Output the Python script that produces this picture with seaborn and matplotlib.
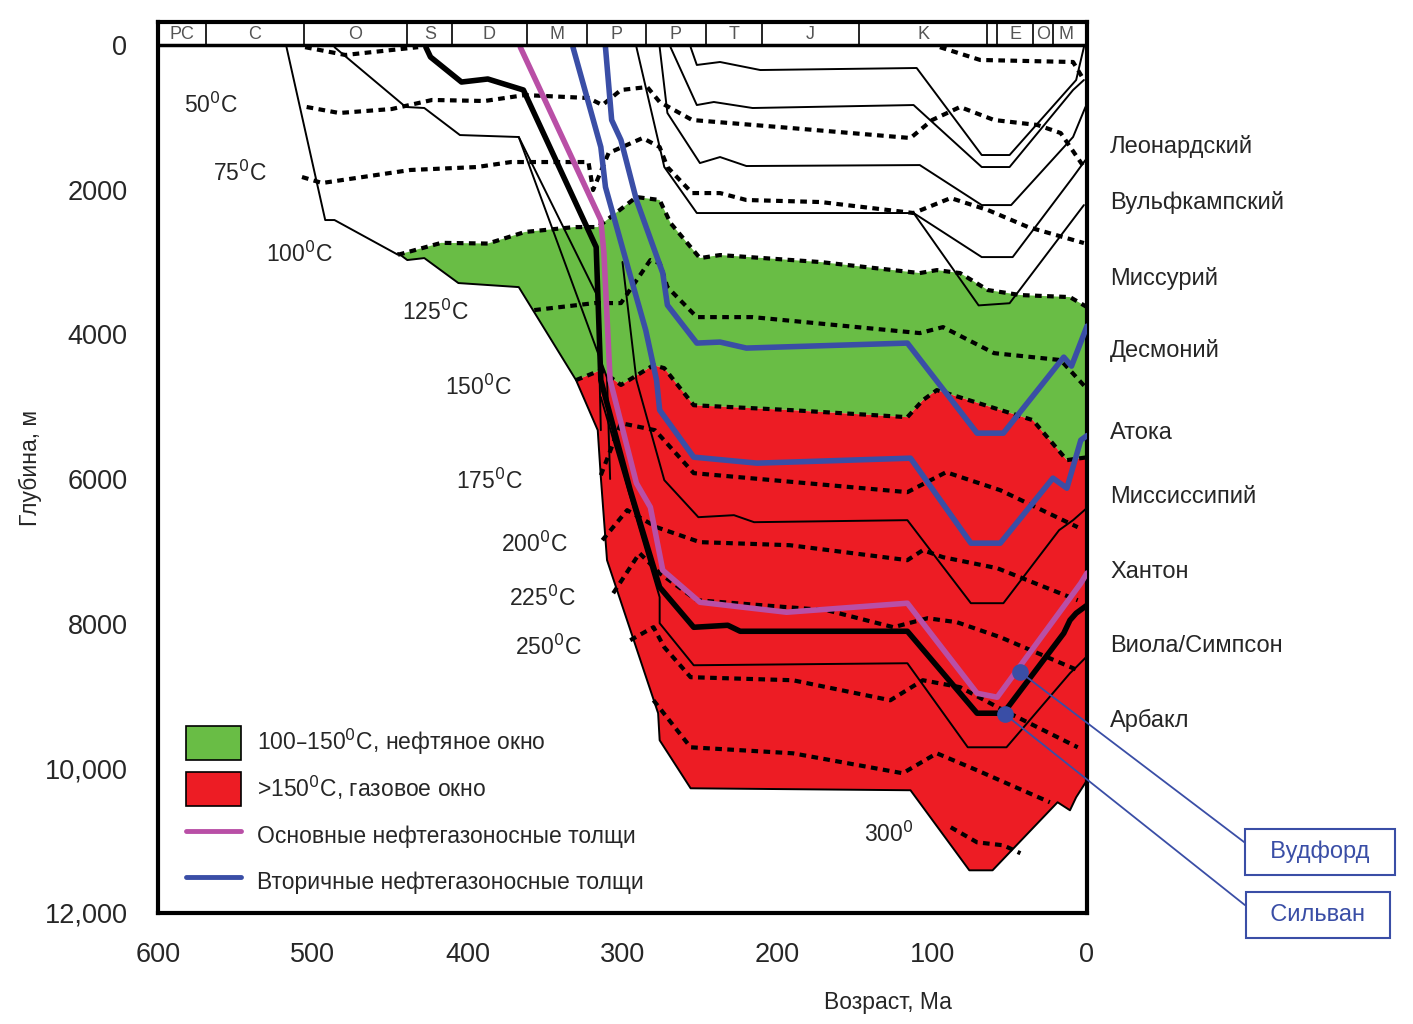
import numpy as np
import pandas as pd
import matplotlib
matplotlib.use("Agg")
import matplotlib.pyplot as plt
import seaborn as sns
from matplotlib.patches import Patch
from matplotlib.lines import Line2D

# ---------------- data (age Ma, depth m) ----------------
green_top_age = [445, 417, 387, 363, 331, 316, 291, 276, 269, 250, 237, 172, 108, 97, 82, 64, 43, 11, 0]
green_top_dep = [2900, 2735, 2745, 2585, 2517, 2517, 2102, 2143, 2461, 2946, 2904, 3001, 3153, 3112, 3153, 3388, 3457, 3485, 3623]
green_left_age = [445, 439, 428, 406, 367, 330]
green_left_dep = [2877, 2973, 2946, 3291, 3347, 4633]
red_top_age = [330, 314, 301, 280, 273, 254, 191, 116, 106, 97, 35, 13, 0]
red_top_dep = [4633, 4495, 4700, 4427, 4468, 4980, 5048, 5145, 4910, 4771, 5186, 5739, 5700]
red_bot_age = [330, 316, 314, 310, 277, 276, 256, 114, 76, 61, 19, 11, 7, 0]
red_bot_dep = [4633, 5325, 5975, 7122, 9238, 9612, 10276, 10303, 11410, 11410, 10469, 10580, 10400, 10165]

thick_age = [427, 424, 404, 387, 364, 317, 314, 295, 276, 254, 232, 224, 116, 71, 54, 15, 11, 7, 0]
thick_dep = [30, 166, 512, 470, 622, 2794, 4633, 6155, 7496, 8050, 8022, 8105, 8105, 9238, 9238, 8132, 7952, 7855, 7745]
mag_age = [366, 314, 312, 308, 291, 282, 274, 250, 194, 116, 71, 58, 4, 0]
mag_dep = [30, 2420, 2877, 4633, 6058, 6390, 7261, 7704, 7842, 7717, 8962, 9017, 7441, 7300]
blue1_age = [311, 307, 301, 291, 274, 271, 252, 237, 220, 116, 71, 54, 15, 10, 0]
blue1_dep = [30, 1037, 1314, 2143, 3153, 3596, 4121, 4107, 4190, 4121, 5366, 5366, 4315, 4439, 3887]
blue2_age = [332, 314, 311, 296, 285, 278, 276, 254, 213, 114, 75, 56, 22, 13, 4, 0]
blue2_dep = [30, 1411, 1964, 3112, 3942, 4633, 5048, 5698, 5781, 5712, 6887, 6887, 5988, 6127, 5463, 5400]

thin_lines = {
    "A": ([256, 252, 237, 211, 110, 68, 50, 7, 2], [30, 276, 235, 346, 318, 1521, 1521, 484, 30]),
    "B": ([269, 252, 241, 216, 112, 68, 50, 9, 2], [30, 830, 788, 871, 830, 1687, 1687, 622, 484]),
    "C": ([276, 271, 250, 237, 220, 108, 68, 49, 9, 1], [30, 940, 1632, 1549, 1673, 1660, 2213, 2213, 1272, 857]),
    "D": ([291, 273, 252, 112, 68, 48, 9, 1], [30, 1687, 2323, 2323, 2932, 2932, 1825, 1590]),
    "E": ([112, 70, 50, 2], [2323, 3600, 3570, 2213]),
    "base": ([517, 492, 486, 445], [30, 2420, 2420, 2900]),
    "L2": ([486, 440, 428, 405, 367, 316, 314], [30, 857, 871, 1245, 1272, 3480, 5325]),
    "L3": ([367, 310, 308], [1272, 4600, 6000]),
    "R1": ([300, 291, 273, 251, 228, 215, 116, 75, 54, 18, 9, 0], [3000, 4633, 6016, 6528, 6500, 6597, 6569, 7717, 7717, 6707, 6569, 6400]),
    "R2": ([314, 276, 276, 254, 116, 77, 52, 11, 7, 0], [4868, 7634, 7994, 8575, 8547, 9709, 9709, 8685, 8602, 8450]),
}

isotherms = {
    "25": ([505, 479, 432], [30, 138, 30]),
    "25b": ([95, 69, 9, 2], [30, 207, 235, 484]),
    "50": ([504, 483, 449, 423, 389, 363, 322, 313, 301, 284, 276, 255, 199, 114, 100, 82, 60, 32, 17, 2],
           [857, 940, 885, 760, 774, 692, 733, 830, 622, 581, 788, 1037, 1134, 1286, 1037, 857, 1037, 1106, 1217, 1687]),
    "75": ([507, 494, 437, 394, 372, 322, 319, 309, 287, 276, 271, 255, 237, 220, 172, 112, 88, 64, 38, 2],
           [1825, 1908, 1728, 1687, 1618, 1618, 2005, 1494, 1286, 1411, 1687, 2047, 2047, 2143, 2171, 2323, 2116, 2282, 2517, 2738]),
    "125": ([357, 318, 301, 282, 276, 271, 252, 216, 108, 93, 60, 17, 1],
            [3665, 3568, 3568, 2973, 3015, 3347, 3762, 3762, 3983, 3900, 4260, 4356, 4730]),
    "175": ([314, 301, 279, 254, 116, 91, 56, 6], [5948, 5228, 5325, 5919, 6182, 5906, 6155, 6666]),
    "200": ([313, 297, 278, 250, 192, 116, 106, 93, 58, 6], [6846, 6431, 6666, 6873, 6915, 7122, 6984, 7081, 7233, 7676]),
    "225": ([306, 289, 276, 252, 168, 125, 103, 84, 56, 6], [7579, 7025, 7302, 7676, 7814, 8049, 7925, 7980, 8187, 8643]),
    "250": ([295, 280, 273, 256, 190, 127, 106, 82, 54, 6], [8229, 8049, 8326, 8740, 8782, 9059, 8782, 8878, 9197, 9709]),
    "275": ([280, 256, 190, 119, 97, 71, 24], [9059, 9709, 9792, 10068, 9792, 10027, 10469]),
    "300": ([88, 71, 54, 43], [10815, 11023, 11064, 11174]),
}

temp_labels = ["50$^0$C", "75$^0$C", "100$^0$C", "125$^0$C", "150$^0$C", "175$^0$C", "200$^0$C", "225$^0$C", "250$^0$C", "300$^0$"]
temp_lab_age = [566, 547, 509, 421, 393, 386, 357, 352, 348, 128]
temp_lab_dep = [830, 1770, 2900, 3700, 4730, 6030, 6900, 7650, 8330, 10910]

periods = ["PC", "C", "O", "S", "D", "M", "P", "P", "T", "J", "K", "", "E", "O", "M"]
period_bounds = [600, 569, 506, 439, 410, 362, 323, 285, 246, 210, 147, 64.5, 58, 35, 22, 4.5]

formations = ["Леонардский", "Вульфкампский", "Миссурий", "Десмоний", "Атока", "Миссиссипий", "Хантон", "Виола/Симпсон", "Арбакл"]
form_y = [147, 203, 278, 350, 433, 497, 572, 646, 720]

GREEN = "#69bd45"
RED = "#ed1c24"
MAG = "#b94fa6"
BLUE = "#3a4ea6"

sns.set_style("white")
plt.rcParams['font.family'] = ['Liberation Sans', 'DejaVu Sans']

fig = plt.figure(figsize=(14.13, 10.24), dpi=100)
ax = fig.add_axes([158/1413, 1-913/1024, (1087-158)/1413, (913-22)/1024])
YTOP = -(45-22)/0.07233
ax.set_xlim(600, 0)
ax.set_ylim(12000, YTOP)

# fills
gx = green_top_age + [0] + red_top_age[::-1] + green_left_age[::-1]
gy = green_top_dep + [5700] + red_top_dep[::-1] + green_left_dep[::-1]
ax.fill(gx, gy, color=GREEN, lw=0, zorder=1)
rx = red_top_age + red_bot_age[::-1]
ry = red_top_dep + red_bot_dep[::-1]
ax.fill(rx, ry, color=RED, lw=0, zorder=1)
ax.plot(green_left_age, green_left_dep, color="k", lw=1.4, zorder=3)
ax.plot(red_bot_age, red_bot_dep, color="k", lw=1.4, zorder=3)

def line(a, d, **kw):
    df = pd.DataFrame({"age": a, "depth": d})
    sns.lineplot(data=df, x="age", y="depth", sort=False, estimator=None, ax=ax, **kw)

for k, (a, d) in thin_lines.items():
    line(a, d, color="k", lw=1.4, zorder=3)
for k, (a, d) in isotherms.items():
    line(a, d, color="k", lw=3, dashes=(1.6, 1.3), zorder=4)
for a, d in [(green_top_age, green_top_dep), (red_top_age, red_top_dep)]:
    line(a, d, color="k", lw=3, dashes=(1.6, 1.3), zorder=4)
line(thick_age, thick_dep, color="k", lw=4, zorder=5)
line(mag_age, mag_dep, color=MAG, lw=4, zorder=6)
line(blue1_age, blue1_dep, color=BLUE, lw=4, zorder=6)
line(blue2_age, blue2_dep, color=BLUE, lw=4, zorder=6)

for t, a, d in zip(temp_labels, temp_lab_age, temp_lab_dep):
    ax.text(a, d, t, fontsize=16.5, ha="center", va="center", zorder=7)

# period bar
ax.axhline(0, color="k", lw=2.5, zorder=8)
for b in period_bounds[1:-1]:
    ax.plot([b, b], [YTOP, 0], color="k", lw=1.2, zorder=8)
for i, p in enumerate(periods):
    c = (period_bounds[i] + period_bounds[i+1]) / 2
    ax.text(c, YTOP/2 + 20, p, fontsize=13, ha="center", va="center", color="#555555", zorder=8)

ax.set_xticks(range(600, -1, -100))
ax.set_xticks(range(550, 0, -100), minor=True)
ax.set_yticks(range(0, 12001, 2000))
ax.set_yticks(range(1000, 12000, 2000), minor=True)
ax.set_yticklabels(["0", "2000", "4000", "6000", "8000", "10,000", "12,000"])
ax.tick_params(axis="both", which="major", labelsize=19.5, length=14, width=1.5, direction="out", pad=8)
ax.tick_params(axis="both", which="minor", length=8, width=1.5, direction="out")
ax.tick_params(axis="x", pad=7)
for s in ax.spines.values():
    s.set_linewidth(3)
    s.set_color("k")
ax.set_xlabel("Возраст, Ма", fontsize=16.5)
ax.xaxis.set_label_coords((888-158)/929, -0.088)
ax.set_ylabel("Глубина, м", fontsize=16.5)
ax.yaxis.set_label_coords(-0.125, 0.5)

for f, y in zip(formations, form_y):
    fig.text(1110/1413, 1-y/1024, f, fontsize=17, va="center", ha="left")

handles = [Patch(facecolor=GREEN, edgecolor="k", lw=1.2), Patch(facecolor=RED, edgecolor="k", lw=1.2),
           Line2D([0], [0], color=MAG, lw=3.5), Line2D([0], [0], color=BLUE, lw=3.5)]
labels = ["100–150$^0$C, нефтяное окно", ">150$^0$C, газовое окно",
          "Основные нефтегазоносные толщи", "Вторичные нефтегазоносные толщи"]
ax.legend(handles, labels, loc="upper left", bbox_to_anchor=(165/1413, 1-705/1024),
          bbox_transform=fig.transFigure, frameon=False, fontsize=16.5, handlelength=2.4,
          handleheight=1.9, labelspacing=0.55, handletextpad=0.7)

# callouts
dot_age = [43, 53]
dot_dep = [8672, 9252]
call_names = ["  Вудфорд  ", "  Сильван  "]
call_pos = [(1320, 852), (1318, 915)]
for a, d, n, (px, py) in zip(dot_age, dot_dep, call_names, call_pos):
    ax.plot(a, d, "o", color=BLUE, ms=11, zorder=9)
    ax.annotate(n, xy=(a, d), xytext=(px/1413, 1-py/1024), textcoords="figure fraction",
                fontsize=17, color=BLUE, ha="center", va="center", annotation_clip=False,
                bbox=dict(boxstyle="square,pad=0.5", fc="white", ec=BLUE, lw=1.5),
                arrowprops=dict(arrowstyle="-", color=BLUE, lw=1.3, shrinkA=0, shrinkB=0,
                                relpos=(0, 0.5)), zorder=9)

fig.savefig("out.png", dpi=100)
